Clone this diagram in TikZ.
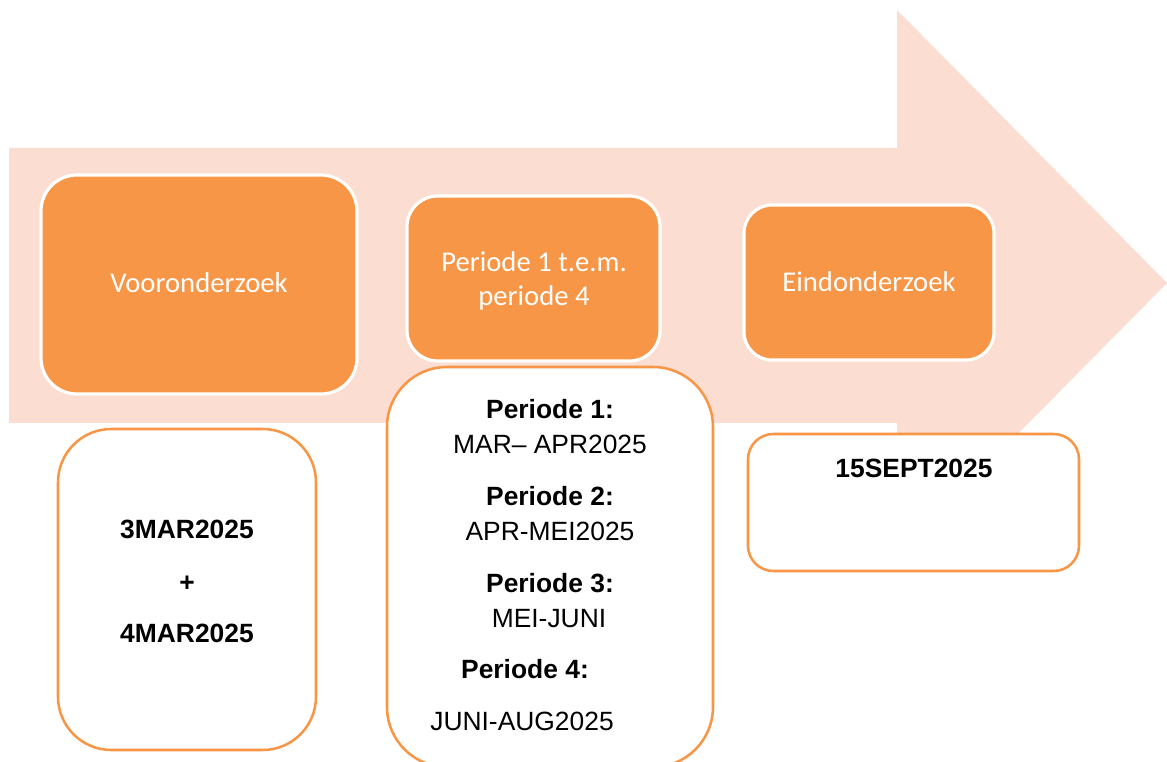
\documentclass[tikz,border=0pt]{standalone}
\usepackage{fontspec}
\setmainfont{Liberation Sans}
\newfontfamily\carlito{Carlito}
\definecolor{peach}{HTML}{FBDDD1}
\definecolor{accent}{HTML}{F79646}
\begin{document}
\begin{tikzpicture}[x=0.75pt,y=-0.75pt,
  phasebox/.style={rectangle,fill=accent,draw=white,line width=2.4pt,inner sep=0pt},
  datebox/.style={rectangle,fill=white,draw=accent,line width=1.9pt,inner sep=0pt},
  phasetxt/.style={anchor=base,inner sep=0pt,text=white,font=\carlito\fontsize{21.5}{25.5}\selectfont},
  datetxt/.style={anchor=base,inner sep=0pt,text=black,font=\fontsize{19.8}{24}\selectfont},
  datebold/.style={datetxt,font=\bfseries\fontsize{19.8}{24}\selectfont}]
\useasboundingbox (0,0) rectangle (1167,762);
% big arrow
\fill[peach] (9,148) -- (897,148) -- (897,10) -- (1167,283) -- (897,556) -- (897,423) -- (9,423) -- cycle;
% phase boxes
\node[phasebox,rounded corners=27pt,minimum width=316*0.75pt,minimum height=219*0.75pt] (p1) at (199,284.5) {};
\node[phasebox,rounded corners=23pt,minimum width=253*0.75pt,minimum height=165*0.75pt] (p2) at (533.5,278.5) {};
\node[phasebox,rounded corners=21pt,minimum width=250*0.75pt,minimum height=155*0.75pt] (p3) at (869,282.5) {};
\node[phasetxt] (t1) at (199,293) {Vooronderzoek};
\node[phasetxt] (t2a) at (534,272) {Periode 1 t.e.m.};
\node[phasetxt] (t2b) at (534,306) {periode 4};
\node[phasetxt] (t3) at (869,292) {Eindonderzoek};
% date boxes
\node[datebox,rounded corners=40pt,minimum width=258*0.75pt,minimum height=321*0.75pt] (dA) at (187,589.5) {};
\node[datebox,rounded corners=45pt,minimum width=326*0.75pt,minimum height=400*0.75pt] (dB) at (550,567) {};
\node[datebox,rounded corners=19pt,minimum width=331*0.75pt,minimum height=137*0.75pt] (dC) at (913.5,502.5) {};
% box A text
\node[datebold] (a1) at (187,538) {3MAR2025};
\node[datebold] (a2) at (187,591) {+};
\node[datebold] (a3) at (187,642) {4MAR2025};
% box B text
\node[datebold] (b1) at (550,419) {Periode 1:};
\node[datetxt] (b2) at (550,454) {MAR– APR2025};
\node[datebold] (b3) at (550,506) {Periode 2:};
\node[datetxt] (b4) at (550,541) {APR-MEI2025};
\node[datebold] (b5) at (550,592) {Periode 3:};
\node[datetxt] (b6) at (549,627) {MEI-JUNI};
\node[datebold] (b7) at (525,678) {Periode 4:};
\node[datetxt] (b8) at (522,730) {JUNI-AUG2025};
% box C text
\node[datebold] (c1) at (914,478) {15SEPT2025};
\end{tikzpicture}
\end{document}
